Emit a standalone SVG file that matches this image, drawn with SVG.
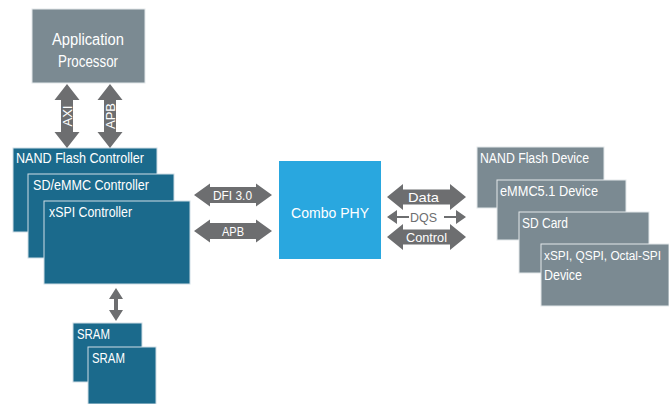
<svg xmlns="http://www.w3.org/2000/svg" width="669" height="404" viewBox="0 0 669 404">
<style>
text{font-family:"Liberation Sans","Open Sans",sans-serif;fill:#ffffff}
.gray{fill:#7b8a92;stroke:#e3e8ea;stroke-width:1}
.dark{fill:#1b6a8c;stroke:#cfdde5;stroke-width:1}
.light{fill:#29a7df}
.arr{fill:#6d6e70}
.t13{font-size:14px}
.t12{font-size:13px}
</style>
<rect width="669" height="404" fill="#ffffff"/>
<g id="app-processor">
<rect class="gray" x="32" y="9" width="113" height="74"/>
<text x="52" y="45" font-size="16" textLength="72" lengthAdjust="spacingAndGlyphs">Application</text>
<text x="58" y="67" font-size="16" textLength="60" lengthAdjust="spacingAndGlyphs">Processor</text>
</g>
<g id="nand-controller">
<rect class="dark" x="13" y="148" width="144" height="84"/>
<text class="t13" x="16" y="162.5" textLength="128" lengthAdjust="spacingAndGlyphs">NAND Flash Controller</text>
</g>
<g id="sdemmc-controller">
<rect class="dark" x="28" y="174" width="146" height="84"/>
<text class="t13" x="33" y="189.5" textLength="116" lengthAdjust="spacingAndGlyphs">SD/eMMC Controller</text>
</g>
<g id="xspi-controller">
<rect class="dark" x="44" y="201" width="146" height="83"/>
<text class="t13" x="49" y="216.5" textLength="83" lengthAdjust="spacingAndGlyphs">xSPI Controller</text>
</g>
<g id="sram1">
<rect class="dark" x="73" y="323" width="69" height="59"/>
<text class="t13" x="77" y="338.5" textLength="33" lengthAdjust="spacingAndGlyphs">SRAM</text>
</g>
<g id="sram2">
<rect class="dark" x="88" y="347" width="68" height="57"/>
<text class="t13" x="92" y="362.5" textLength="33" lengthAdjust="spacingAndGlyphs">SRAM</text>
</g>
<g id="combo-phy">
<rect class="light" x="279" y="161" width="102" height="98"/>
<text x="291" y="218" font-size="15.5" textLength="78" lengthAdjust="spacingAndGlyphs">Combo PHY</text>
</g>
<g id="nand-device">
<rect class="gray" x="477" y="147" width="127" height="61"/>
<text class="t13" x="480" y="162.5" textLength="109" lengthAdjust="spacingAndGlyphs">NAND Flash Device</text>
</g>
<g id="emmc-device">
<rect class="gray" x="497" y="180" width="129" height="60"/>
<text class="t13" x="500" y="195.5" textLength="98" lengthAdjust="spacingAndGlyphs">eMMC5.1 Device</text>
</g>
<g id="sd-card">
<rect class="gray" x="519" y="212" width="130" height="61"/>
<text class="t13" x="522" y="227.5" textLength="46" lengthAdjust="spacingAndGlyphs">SD Card</text>
</g>
<g id="xspi-device">
<rect class="gray" x="541" y="244" width="128" height="62"/>
<text x="544" y="259.5" font-size="12" textLength="117" lengthAdjust="spacingAndGlyphs">xSPI, QSPI, Octal-SPI</text>
<text class="t13" x="544" y="279.5" textLength="38" lengthAdjust="spacingAndGlyphs">Device</text>
</g>
<g id="connectors">
<polygon class="arr" points="67,84 79.5,100 73,100 73,132 79.5,132 67,148 54.5,132 61,132 61,100 54.5,100"/>
<text class="t12" transform="translate(71.5,116) rotate(-90)" text-anchor="middle">AXI</text>
<polygon class="arr" points="110,84 122.5,100 116,100 116,132 122.5,132 110,148 97.5,132 104,132 104,100 97.5,100"/>
<text class="t12" transform="translate(114.5,116) rotate(-90)" text-anchor="middle">APB</text>
<polygon class="arr" points="116,288 123,299 118,299 118,310 123,310 116,321 109,310 114,310 114,299 109,299"/>
<polygon class="arr" points="194,195 210,183.5 210,187 256,187 256,183.5 272,195 256,206.5 256,203 210,203 210,206.5"/>
<text class="t12" x="213" y="199.5" textLength="39" lengthAdjust="spacingAndGlyphs">DFI 3.0</text>
<polygon class="arr" points="194,231 210,219.5 210,223 256,223 256,219.5 272,231 256,242.5 256,239 210,239 210,242.5"/>
<text class="t12" x="222" y="235.5" textLength="22" lengthAdjust="spacingAndGlyphs">APB</text>
<polygon class="arr" points="387,197 403,184 403,189.5 450,189.5 450,184 466,197 450,210 450,204.5 403,204.5 403,210"/>
<text class="t12" x="408" y="201.5" textLength="31" lengthAdjust="spacingAndGlyphs">Data</text>
<polygon class="arr" points="387,217 397,210 397,216 409,216 409,218 397,218 397,224"/>
<polygon class="arr" points="466,217 456,210 456,216 444,216 444,218 456,218 456,224"/>
<text x="410" y="221.5" font-size="13" textLength="27" lengthAdjust="spacingAndGlyphs" style="fill:#6d6e70">DQS</text>
<polygon class="arr" points="387,237 403,224 403,229.5 450,229.5 450,224 466,237 450,250 450,244.5 403,244.5 403,250"/>
<text class="t12" x="406" y="241.5" textLength="41" lengthAdjust="spacingAndGlyphs">Control</text>
</g>
</svg>
